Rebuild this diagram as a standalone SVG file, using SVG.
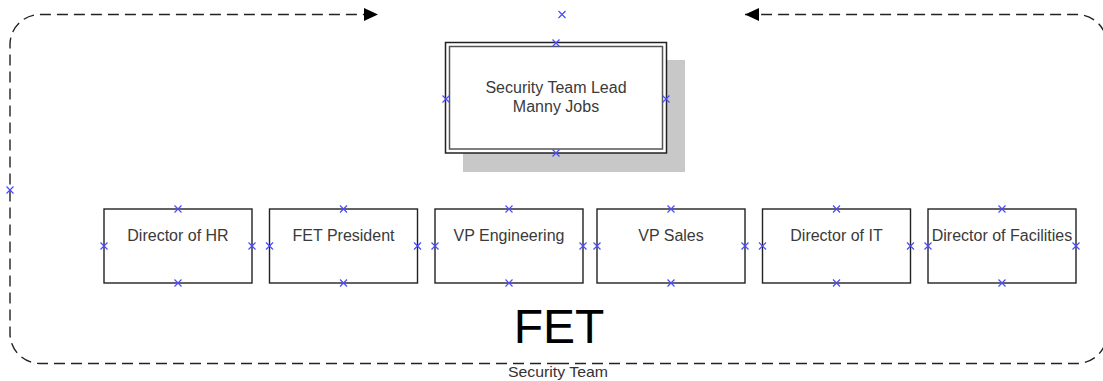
<svg xmlns="http://www.w3.org/2000/svg" xmlns:xlink="http://www.w3.org/1999/xlink" width="1103" height="381" viewBox="0 0 1103 381">
<style>
.conn{fill:none;stroke:#222;stroke-width:1.4;stroke-dasharray:11 6}
.box{fill:#fff;stroke:#222;stroke-width:1.4}
.lbl{font-family:"Liberation Sans",Arial,sans-serif;font-size:16px;fill:#3a3a3a;text-anchor:middle}
.cx{fill:none;stroke:#4a4aff;stroke-width:1.2}
</style>
<defs>
<marker id="arr" markerUnits="userSpaceOnUse" markerWidth="16" markerHeight="14" refX="14" refY="6.5" orient="auto">
<path d="M0,0 L14,6.5 L0,13 z" fill="#000"/>
</marker>
<path id="xm" class="cx" d="M-3.5,-3.5 L3.5,3.5 M-3.5,3.5 L3.5,-3.5"/>
</defs>
<rect width="1103" height="381" fill="#fff"/>
<g id="connectors">
<path class="conn" d="M558 363.5 H40 A30 30 0 0 1 10 333.5 V44.5 A30 30 0 0 1 40 14.5 H378" marker-end="url(#arr)"/>
<path class="conn" d="M558 363.5 H1077 A30 30 0 0 0 1107 333.5 V44.5 A30 30 0 0 0 1077 14.5 H745" marker-end="url(#arr)"/>
<use xlink:href="#xm" x="562" y="14.5"/>
<use xlink:href="#xm" x="10" y="190"/>
</g>
<g id="security-team-lead">
<rect x="463" y="60" width="222" height="112" fill="#c8c8c8"/>
<rect x="445.5" y="42.5" width="221" height="110.5" fill="#fff" stroke="#222" stroke-width="1.5"/>
<rect x="449.5" y="46.5" width="213" height="102.5" fill="none" stroke="#555" stroke-width="1.5"/>
<text class="lbl" x="556" y="93">Security Team Lead</text>
<text class="lbl" x="556" y="112">Manny Jobs</text>
<use xlink:href="#xm" x="556" y="43"/>
<use xlink:href="#xm" x="446" y="99"/>
<use xlink:href="#xm" x="666" y="99"/>
<use xlink:href="#xm" x="556" y="153"/>
</g>
<g id="director-hr">
<rect class="box" x="104" y="209" width="148" height="74"/>
<text class="lbl" x="178" y="241">Director of HR</text>
<use xlink:href="#xm" x="178" y="209"/><use xlink:href="#xm" x="178" y="283"/><use xlink:href="#xm" x="104" y="246"/><use xlink:href="#xm" x="252" y="246"/>
</g>
<g id="fet-president">
<rect class="box" x="269.5" y="209" width="148" height="74"/>
<text class="lbl" x="343.5" y="241">FET President</text>
<use xlink:href="#xm" x="343.5" y="209"/><use xlink:href="#xm" x="343.5" y="283"/><use xlink:href="#xm" x="269.5" y="246"/><use xlink:href="#xm" x="417.5" y="246"/>
</g>
<g id="vp-engineering">
<rect class="box" x="435" y="209" width="148" height="74"/>
<text class="lbl" x="509" y="241">VP Engineering</text>
<use xlink:href="#xm" x="509" y="209"/><use xlink:href="#xm" x="509" y="283"/><use xlink:href="#xm" x="435" y="246"/><use xlink:href="#xm" x="583" y="246"/>
</g>
<g id="vp-sales">
<rect class="box" x="597" y="209" width="148" height="74"/>
<text class="lbl" x="671" y="241">VP Sales</text>
<use xlink:href="#xm" x="671" y="209"/><use xlink:href="#xm" x="671" y="283"/><use xlink:href="#xm" x="597" y="246"/><use xlink:href="#xm" x="745" y="246"/>
</g>
<g id="director-it">
<rect class="box" x="762.5" y="209" width="148" height="74"/>
<text class="lbl" x="836.5" y="241">Director of IT</text>
<use xlink:href="#xm" x="836.5" y="209"/><use xlink:href="#xm" x="836.5" y="283"/><use xlink:href="#xm" x="762.5" y="246"/><use xlink:href="#xm" x="910.5" y="246"/>
</g>
<g id="director-facilities">
<rect class="box" x="928" y="209" width="148" height="74"/>
<text class="lbl" x="1002" y="241">Director of Facilities</text>
<use xlink:href="#xm" x="1002" y="209"/><use xlink:href="#xm" x="1002" y="283"/><use xlink:href="#xm" x="928" y="246"/><use xlink:href="#xm" x="1076" y="246"/>
</g>
<g id="fet-label">
<text x="559" y="343" font-family="'Liberation Sans',Arial,sans-serif" font-size="48" fill="#000" text-anchor="middle">FET</text>
<text x="558" y="377" font-family="'Liberation Sans',Arial,sans-serif" font-size="14.5" fill="#333" text-anchor="middle" textLength="100" lengthAdjust="spacingAndGlyphs">Security Team</text>
</g>
</svg>
